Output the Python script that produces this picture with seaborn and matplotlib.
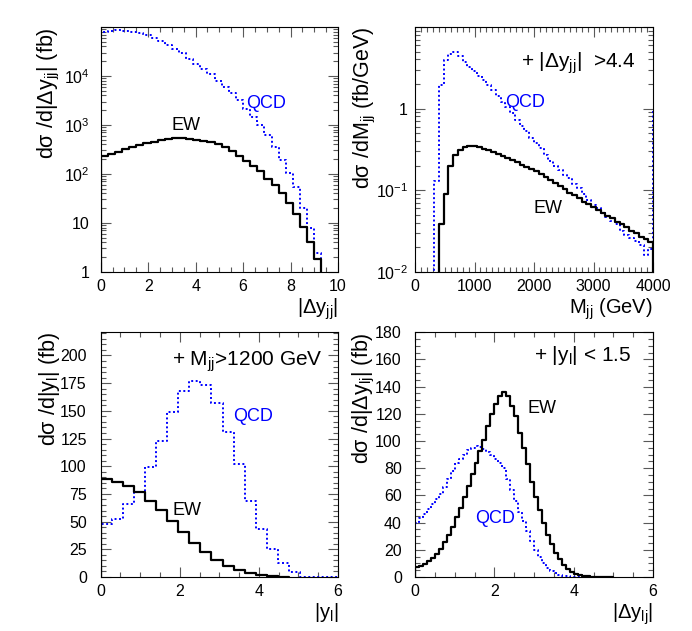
import numpy as np
import pandas as pd
import matplotlib
matplotlib.use("Agg")
import matplotlib.pyplot as plt
from matplotlib.ticker import FixedLocator, MultipleLocator, LogLocator, NullFormatter
import seaborn as sns

# --- |Delta y_jj| (0.3 bins, from 0) ---
dyjj_ew = [236, 258, 285, 318, 350, 385, 420, 455, 490, 520, 540, 540, 525, 500,
           470, 440, 400, 350, 290, 230, 181, 146, 113, 80, 59, 40, 25, 15, 8.3, 4.1, 1.8]
dyjj_qcd = [79000, 84000, 85000, 83000, 79000, 74000, 69000, 60000, 51000, 43500,
            36000, 29000, 22600, 17800, 14000, 10800, 8000, 6000, 4450, 3200, 2150,
            1450, 980, 615, 355, 190, 105, 53, 20, 7.9, 2.4]
dyjj_width = 0.3

# --- M_jj (80 GeV bins, from 0) ---
mjj_ew = [0, 0, 0, 0, 0, 0.038, 0.090, 0.197, 0.267, 0.307, 0.335, 0.35, 0.352,
          0.335, 0.323, 0.309, 0.295, 0.279, 0.263, 0.248, 0.234, 0.219, 0.204, 0.193,
          0.182, 0.172, 0.158, 0.146, 0.135, 0.123, 0.112, 0.102, 0.093, 0.086, 0.079,
          0.072, 0.067, 0.062, 0.057, 0.052, 0.048, 0.045, 0.041, 0.038, 0.035, 0.032,
          0.0295, 0.027, 0.025, 0.023]
mjj_qcd = [0, 0, 0, 0, 0.13, 1.94, 3.9, 4.7, 4.9, 4.4, 3.75, 3.2, 2.85, 2.5, 2.25,
           1.95, 1.7, 1.42, 1.2, 1.05, 0.88, 0.72, 0.62, 0.53, 0.44, 0.38, 0.33, 0.27,
           0.23, 0.2, 0.175, 0.155, 0.14, 0.12, 0.105, 0.09, 0.075, 0.066, 0.06, 0.053,
           0.047, 0.042, 0.038, 0.032, 0.028, 0.026, 0.024, 0.021, 0.016, 0.019]
mjj_qcd_underflow = 1.0
mjj_qcd_overflow = 1.0
mjj_width = 80

# --- |y_l| (0.28 bins, from 0) ---
ylep_ew = [88.5, 86, 82, 76.5, 68.5, 60.5, 50.5, 40.5, 31, 22.5, 15, 9.5, 6, 3.5, 1.8, 0.9, 0.4]
ylep_qcd = [48, 52, 66, 77, 99, 123, 149, 168, 177, 173, 157, 131, 102, 69, 43, 25,
            13, 4.2, 0, 0, 0, 0]
ylep_width = 0.28

# --- |Delta y_lj| (0.1 bins, from 0) ---
dylj_ew = [7.5, 8.3, 9.5, 11.5, 14, 17, 20.5, 25.5, 31, 37, 44, 51, 59, 67, 75.5, 84,
           92.5, 101, 111, 120, 127, 133, 136, 133, 126, 118, 106, 95, 83, 70, 59, 49,
           40, 31, 24, 18, 13, 9, 6, 3.8, 2.3, 1.3, 0.8, 0.45, 0.25, 0.12, 0.06, 0.03,
           0.02, 0.01]
dylj_qcd = [40, 43, 46, 50, 54, 57, 61, 66, 72, 78, 84, 87, 90, 93, 95, 96, 95.5, 94,
            92, 90, 87, 84, 80, 72, 64, 56, 48, 41, 34, 26.5, 20, 14.5, 10, 6.5, 4.2,
            2.6, 1.5, 0.9, 0.5, 0.3, 0.15, 0.08, 0.04, 0, 0, 0, 0, 0, 0, 0]
dylj_width = 0.1

EW_KW = dict(color="black", linewidth=1.6)
QCD_KW = dict(color="#0000ff", linewidth=1.4, linestyle=(0, (1, 1.3)))
YLAB = 15.5   # y-axis title size
XLAB = 14.5   # x-axis title size
CUT = 15      # cut annotation size
TAG = 13      # EW / QCD tags

sns.set_theme(style="ticks")
plt.rcParams["font.family"] = ["Liberation Sans", "DejaVu Sans"]
plt.rcParams["mathtext.fontset"] = "custom"
plt.rcParams["mathtext.rm"] = "Liberation Sans"
plt.rcParams["mathtext.it"] = "Liberation Sans:italic"
plt.rcParams["axes.edgecolor"] = "black"
plt.rcParams["axes.linewidth"] = 0.8
plt.rcParams["text.color"] = "black"
plt.rcParams["axes.labelcolor"] = "black"
plt.rcParams["xtick.labelcolor"] = "black"
plt.rcParams["ytick.labelcolor"] = "black"


def step_frame(values, width, floor, under=None, over=None):
    """Histogram outline (ROOT style) as x/y points for a steps-post line."""
    v = np.asarray(values, dtype=float)
    v = np.where(v > 0, v, floor)
    edges = np.arange(len(v) + 1) * width
    x = [edges[0]] + list(edges[:-1]) + [edges[-1]]
    y = [floor] + list(v) + [floor]
    if under is not None:
        x[0], y[0] = edges[0] - width, under
    if over is not None:
        x = x[:-1] + [edges[-1], edges[-1] + width]
        y = y[:-1] + [over, floor]
    return pd.DataFrame({"x": x, "y": y})


def draw(ax, df, kw):
    sns.lineplot(data=df, x="x", y="y", ax=ax, sort=False, estimator=None,
                 drawstyle="steps-post", **kw)


def style_axis(ax, ypad):
    ax.tick_params(which="both", direction="in", top=True, right=True,
                   color="0.35", labelsize=11.5, labelcolor="black")
    ax.tick_params(which="major", length=7, width=0.8)
    ax.tick_params(which="minor", length=3.5, width=0.8)
    ax.tick_params(axis="x", pad=5)
    ax.tick_params(axis="y", pad=ypad)


fig = plt.figure(figsize=(6.92, 6.31), dpi=100)
ax1 = fig.add_axes([0.1455, 0.5694, 0.343, 0.3878])
ax2 = fig.add_axes([0.5997, 0.5694, 0.344, 0.3878])
ax3 = fig.add_axes([0.1455, 0.0856, 0.343, 0.388])
ax4 = fig.add_axes([0.5997, 0.0856, 0.344, 0.388])

# ---- panel 1 ----
ax1.set_yscale("log")
draw(ax1, step_frame(dyjj_qcd, dyjj_width, 1e-3), QCD_KW)
draw(ax1, step_frame(dyjj_ew, dyjj_width, 1e-3), EW_KW)
ax1.set_xlim(0, 10)
ax1.set_ylim(1, 1e5)
ax1.xaxis.set_major_locator(MultipleLocator(2))
ax1.xaxis.set_minor_locator(MultipleLocator(0.5))
ax1.yaxis.set_major_locator(FixedLocator([1, 10, 100, 1e3, 1e4, 1e5]))
ax1.set_yticklabels(["1", "10", "10$^{2}$", "10$^{3}$", "10$^{4}$", ""])
ax1.yaxis.set_minor_locator(LogLocator(base=10, subs=np.arange(2, 10)))
ax1.yaxis.set_minor_formatter(NullFormatter())
style_axis(ax1, 8)
ax1.text(3.6, 950, "EW", fontsize=TAG, ha="center", va="center")
ax1.text(6.95, 2750, "QCD", fontsize=TAG, ha="center", va="center", color="#0000ff")
ax1.set_ylabel("dσ /d|Δy$_{\\rm jj}$| (fb)", fontsize=YLAB, loc="top")
ax1.yaxis.set_label_coords(-0.165, 1.0)
ax1.set_xlabel("|Δy$_{\\rm jj}$|", fontsize=XLAB, loc="right")
ax1.xaxis.set_label_coords(1.0, -0.1)

# ---- panel 2 ----
ax2.set_yscale("log")
draw(ax2, step_frame(mjj_qcd, mjj_width, 1e-4, under=mjj_qcd_underflow,
                     over=mjj_qcd_overflow), QCD_KW)
draw(ax2, step_frame(mjj_ew, mjj_width, 1e-4), EW_KW)
ax2.set_xlim(0, 4000)
ax2.set_ylim(0.01, 10)
ax2.xaxis.set_major_locator(MultipleLocator(1000))
ax2.xaxis.set_minor_locator(MultipleLocator(100))
ax2.yaxis.set_major_locator(FixedLocator([0.01, 0.1, 1, 10]))
ax2.set_yticklabels(["10$^{-2}$", "10$^{-1}$", "1", ""])
ax2.yaxis.set_minor_locator(LogLocator(base=10, subs=np.arange(2, 10)))
ax2.yaxis.set_minor_formatter(NullFormatter())
style_axis(ax2, 5)
ax2.text(2740, 3.6, "+ |Δy$_{\\rm jj}$|  >4.4", fontsize=CUT, ha="center", va="center")
ax2.text(1850, 1.2, "QCD", fontsize=TAG, ha="center", va="center", color="#0000ff")
ax2.text(2240, 0.06, "EW", fontsize=TAG, ha="center", va="center")
ax2.set_ylabel("dσ /dM$_{\\rm jj}$ (fb/GeV)", fontsize=YLAB, loc="top")
ax2.yaxis.set_label_coords(-0.155, 1.0)
ax2.set_xlabel("M$_{\\rm jj}$ (GeV)", fontsize=XLAB, loc="right")
ax2.xaxis.set_label_coords(1.0, -0.1)

# ---- panel 3 ----
draw(ax3, step_frame(ylep_qcd, ylep_width, 0), QCD_KW)
draw(ax3, step_frame(ylep_ew, ylep_width, 0), EW_KW)
ax3.set_xlim(0, 6)
ax3.set_ylim(0, 221)
ax3.xaxis.set_major_locator(MultipleLocator(2))
ax3.xaxis.set_minor_locator(MultipleLocator(0.5))
ax3.yaxis.set_major_locator(MultipleLocator(25))
ax3.yaxis.set_minor_locator(MultipleLocator(5))
style_axis(ax3, 10)
ax3.text(3.7, 194, "+ M$_{\\rm jj}$>1200 GeV", fontsize=CUT, ha="center", va="center")
ax3.text(3.85, 145, "QCD", fontsize=TAG, ha="center", va="center", color="#0000ff")
ax3.text(2.17, 60, "EW", fontsize=TAG, ha="center", va="center")
ax3.set_ylabel("dσ /d|y$_{\\rm l}$| (fb)", fontsize=YLAB, loc="top")
ax3.yaxis.set_label_coords(-0.165, 1.0)
ax3.set_xlabel("|y$_{\\rm l}$|", fontsize=XLAB, loc="right")
ax3.xaxis.set_label_coords(1.0, -0.1)

# ---- panel 4 ----
draw(ax4, step_frame(dylj_qcd, dylj_width, 0), QCD_KW)
draw(ax4, step_frame(dylj_ew, dylj_width, 0), EW_KW)
ax4.set_xlim(0, 6)
ax4.set_ylim(0, 180)
ax4.xaxis.set_major_locator(MultipleLocator(2))
ax4.xaxis.set_minor_locator(MultipleLocator(0.5))
ax4.yaxis.set_major_locator(MultipleLocator(20))
ax4.yaxis.set_minor_locator(MultipleLocator(5))
style_axis(ax4, 9.5)
ax4.text(4.23, 163, "+ |y$_{\\rm l}$| < 1.5", fontsize=CUT, ha="center", va="center")
ax4.text(3.21, 124, "EW", fontsize=TAG, ha="center", va="center")
ax4.text(2.03, 43, "QCD", fontsize=TAG, ha="center", va="center", color="#0000ff")
ax4.set_ylabel("dσ /d|Δy$_{\\rm lj}$| (fb)", fontsize=YLAB, loc="top")
ax4.yaxis.set_label_coords(-0.16, 1.0)
ax4.set_xlabel("|Δy$_{\\rm lj}$|", fontsize=XLAB, loc="right")
ax4.xaxis.set_label_coords(1.0, -0.1)

fig.savefig("out.png", dpi=100)
plt.close(fig)
